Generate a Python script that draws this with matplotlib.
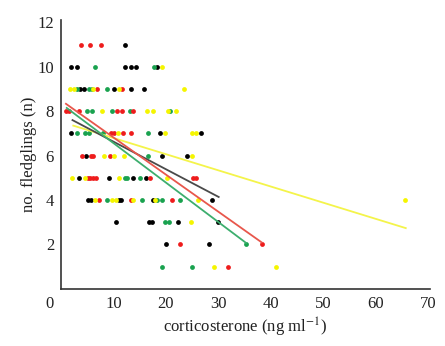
import matplotlib
matplotlib.use("Agg")
import matplotlib.pyplot as plt
import numpy as np

plt.rcParams['font.family'] = ['Liberation Serif', 'DejaVu Serif']
plt.rcParams['mathtext.fontset'] = 'stix'

# data: (corticosterone, fledglings) per group colour
black_x = [12.2,
           2.0, 3.1, 12.3, 13.4, 14.4, 18.3,
           3.6, 4.4, 10.1, 13.4, 15.8,
           2.0, 18.9, 26.7,
           4.7, 19.2, 24.0,
           3.5, 9.2, 13.8, 16.2,
           5.2, 5.7, 11.0, 11.4, 17.5, 28.8,
           10.5, 16.8, 17.3, 22.3, 29.9,
           20.0, 28.3]
black_y = [11,
           10, 10, 10, 10, 10, 10,
           9, 9, 9, 9, 9,
           7, 7, 7,
           6, 6, 6,
           5, 5, 5, 5,
           4, 4, 4, 4, 4, 4,
           3, 3, 3, 3, 3,
           2, 2]

red_x = [3.8, 5.5, 7.6,
         6.9, 11.6,
         0.9, 1.5, 3.5, 10.6, 11.6, 13.7,
         9.5, 10.1, 11.9, 13.4,
         4.0, 5.7, 6.2, 9.3,
         5.2, 5.6, 6.2, 6.7, 17.0, 25.2, 25.7,
         7.3, 13.3, 21.1,
         22.7, 38.3,
         31.9]
red_y = [11, 11, 11,
         9, 9,
         8, 8, 8, 8, 8, 8,
         7, 7, 7, 7,
         6, 6, 6, 6,
         5, 5, 5, 5, 5, 5, 5,
         4, 4, 4,
         2, 2,
         1]

green_x = [6.5, 17.8,
           3.0, 5.3, 5.9, 8.8,
           4.9, 6.0, 9.7, 13.1, 20.9,
           3.0, 4.6, 5.3, 8.1, 16.7,
           16.7,
           12.3, 12.6, 15.1,
           8.7, 15.5, 18.4, 19.2, 22.7,
           19.8, 20.6,
           35.4,
           19.2, 25.0]
green_y = [10, 10,
           9, 9, 9, 9,
           8, 8, 8, 8, 8,
           7, 7, 7, 7, 7,
           6,
           5, 5, 5,
           4, 4, 4, 4, 4,
           3, 3,
           2,
           1, 1]

yellow_x = [19.2,
            1.7, 2.5, 6.1, 11.1, 23.4,
            7.9, 16.5, 17.6, 20.5, 22.0,
            10.8, 19.8, 25.1, 25.7,
            8.2, 10.2, 12.1, 25.1,
            2.2, 4.6, 11.1, 20.2,
            6.4, 9.7, 10.5, 13.8, 17.9, 26.2, 65.7,
            24.8,
            29.2, 41.1]
yellow_y = [10,
            9, 9, 9, 9, 9,
            8, 8, 8, 8, 8,
            7, 7, 7, 7,
            6, 6, 6, 6,
            5, 5, 5, 5,
            4, 4, 4, 4, 4, 4, 4,
            3,
            1, 1]

# fitted regression lines: intercept, slope, x-range
fit_groups = ['yellow', 'black', 'red', 'green']
fit_intercept = [7.52, 7.87, 8.49, 8.34]
fit_slope = [-0.0727, -0.124, -0.167, -0.1775]
fit_xmin = [2.35, 2.2, 0.95, 1.1]
fit_xmax = [65.8, 30.1, 38.3, 35.3]

x_ticks = [10, 20, 30, 40, 50, 60, 70]
y_ticks = [2, 4, 6, 8, 10, 12]

pt_colors = {'black': '#000000', 'red': '#ee1c1c', 'green': '#19a24f', 'yellow': '#f5f500'}
line_colors = {'black': '#4a4a4a', 'red': '#e8574c', 'green': '#3dae6e', 'yellow': '#f4f44a'}

fig = plt.figure(figsize=(4.45, 3.46), dpi=100)
ax = fig.add_axes([0.137, 0.165, 0.829, 0.777])

for name, xs, ys in [('black', black_x, black_y), ('green', green_x, green_y),
                     ('red', red_x, red_y), ('yellow', yellow_x, yellow_y)]:
    ax.scatter(xs, ys, s=12, color=pt_colors[name], linewidths=0, zorder=3)

for g, b0, b1, x0, x1 in zip(fit_groups, fit_intercept, fit_slope, fit_xmin, fit_xmax):
    xx = np.array([x0, x1])
    ax.plot(xx, b0 + b1 * xx, color=line_colors[g], lw=1.3, zorder=4)

ax.set_xlim(0, 70.4)
ax.set_ylim(0, 12.1)
ax.set_xticks(x_ticks)
ax.set_yticks(y_ticks)
ax.tick_params(length=0, labelsize=12, pad=5, colors='#222222')
ax.annotate('0', xy=(0, 0), xycoords='data', xytext=(-8, -5), textcoords='offset points',
            ha='center', va='top', fontsize=12, color='#222222')
for s in ['top', 'right']:
    ax.spines[s].set_visible(False)
for s in ['left', 'bottom']:
    ax.spines[s].set_color('#333333')
    ax.spines[s].set_linewidth(1.2)

ax.set_xlabel('corticosterone (ng ml$^{-1}$)', fontsize=12, labelpad=3, color='#222222')
ax.set_ylabel('no. fledglings (n)', fontsize=12, labelpad=10, color='#222222')
ax.yaxis.set_label_coords(-0.065, 0.5)

fig.savefig('out.png', dpi=100)
